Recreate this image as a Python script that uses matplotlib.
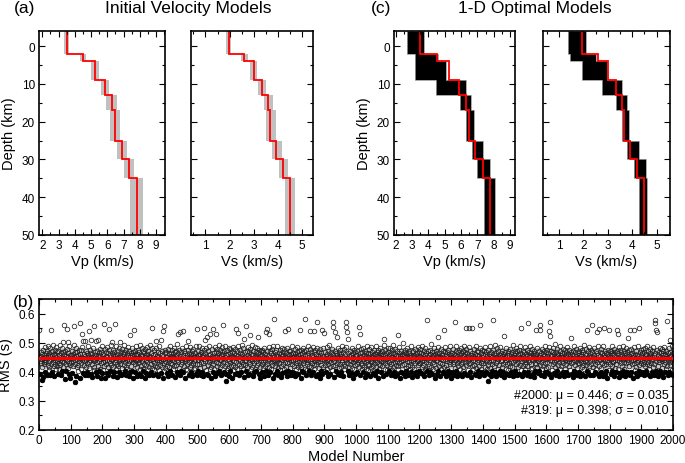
import numpy as np
import matplotlib
matplotlib.use("Agg")
import matplotlib.pyplot as plt
from matplotlib.ticker import MultipleLocator

plt.rcParams["font.family"] = ["Liberation Sans", "DejaVu Sans"]

# ---- 速度模型 (层界面深度 km) ----
layer_edges = [-4, 2, 4, 9, 13, 17, 25, 30, 35, 50]
vp_ref = [3.50, 4.52, 5.25, 5.86, 6.28, 6.46, 6.88, 7.32, 7.80]
vs_ref = [1.96, 2.61, 3.00, 3.33, 3.60, 3.68, 3.93, 4.20, 4.48]
# (a) 初始模型范围 (灰)
vp_init_lo = [3.34, 4.30, 5.02, 5.60, 5.95, 6.15, 6.58, 7.02, 7.42]
vp_init_hi = [3.66, 4.72, 5.50, 6.12, 6.58, 6.78, 7.20, 7.66, 8.22]
vs_init_lo = [1.86, 2.48, 2.86, 3.17, 3.44, 3.52, 3.76, 4.03, 4.28]
vs_init_hi = [2.05, 2.74, 3.14, 3.51, 3.80, 3.90, 4.16, 4.43, 4.72]
# (c) 最优模型范围 (黑)
vp_opt_lo = [2.72, 3.16, 3.16, 4.45, 5.91, 6.31, 6.68, 6.95, 7.43]
vp_opt_hi = [3.72, 4.62, 5.10, 6.30, 6.62, 6.82, 7.33, 7.76, 8.10]
vs_opt_lo = [1.38, 1.46, 1.93, 2.78, 3.34, 3.57, 3.80, 4.07, 4.30]
vs_opt_hi = [2.10, 2.50, 2.96, 3.57, 3.77, 3.88, 4.29, 4.56, 4.62]

# ---- (b) 2000 个模型的 RMS (x0.001 s), 每块 100 个 ----
rms_blocks = [
"""545 452 437 394 468 429 455 372 443 461 418 476 449 382 433 458 427 486 400 441
463 432 451 388 472 446 423 489 457 406 438 466 415 453 480 390 444 543 428 470
456 398 434 491 447 421 462 384 475 439 427 459 408 484 450 436 468 419 394 445
473 430 457 410 442 493 425 464 388 452 437 481 402 448 469 416 502 433 460 562
444 376 471 426 455 402 438 546 479 503 413 450 466 392 431 487 458 422 380 447""",
"""456 434 471 396 445 419 462 438 493 451 557 364 428 467 440 386 454 482 415 443
469 425 404 458 437 476 449 379 461 568 431 452 408 474 529 439 485 396 447 505
423 460 436 388 505 453 418 471 441 400 464 429 488 446 390 457 433 540 412 466
439 475 394 451 510 427 462 382 444 480 452 556 418 436 406 469 441 458 398 505
447 432 472 384 508 455 421 463 438 402 478 443 411 456 377 467 430 489 396 449""",
"""433 461 406 565 446 420 479 438 380 455 427 468 441 396 486 452 416 463 390 437
474 548 430 457 402 444 491 423 466 502 439 386 458 476 415 448 398 469 563 432
455 410 487 441 426 462 382 450 472 419 436 483 400 457 503 444 428 467 388 451
478 413 439 394 460 445 492 422 468 404 447 434 475 390 453 418 464 441 408 486
429 458 384 471 437 525 451 398 466 440 420 482 457 402 444 469 377 433 543 461""",
"""448 426 471 398 457 438 488 415 384 462 441 475 429 452 394 467 434 493 408 446
419 459 386 481 437 453 411 470 402 443 465 428 450 380 477 440 458 396 422 484
433 461 406 446 472 418 455 390 439 491 452 427 466 400 444 480 413 552 436 388
458 431 474 410 447 462 420 483 394 505 439 455 416 468 384 451 434 487 442 406
464 425 449 396 510 436 471 418 457 379 539 445 429 557 404 463 438 476 412 451""",
"""434 468 396 452 421 479 443 386 460 437 415 489 448 402 466 430 455 390 474 442
428 461 408 450 483 419 437 382 469 446 457 423 472 400 441 494 432 463 394 529
449 414 476 537 388 454 427 467 404 440 482 433 458 398 540 445 420 471 377 452
437 464 411 488 443 406 459 426 475 505 448 390 432 466 416 455 485 400 439 461
423 470 446 386 457 431 478 410 450 436 466 414 442 394 487 453 428 388 546 458""",
"""441 473 402 456 426 490 447 412 462 388 435 469 451 398 480 429 458 384 443 474
551 418 464 510 437 406 453 483 394 520 446 425 470 390 458 432 488 408 531 442
461 416 449 380 477 438 455 400 547 427 466 443 411 485 450 386 468 529 433 457
421 479 396 446 463 430 492 404 452 439 474 415 458 388 441 467 425 484 560 448
433 460 398 471 445 419 489 452 394 370 456 428 475 406 443 462 414 481 384 438""",
"""463 431 402 477 448 420 458 379 469 441 425 486 452 406 437 465 416 479 392 446
458 548 433 472 411 396 534 454 489 427 444 388 466 438 475 419 455 400 491 432
461 446 410 428 480 382 452 514 437 468 423 442 556 404 471 449 415 486 390 457
434 467 394 451 527 426 478 443 408 462 438 492 418 456 386 473 445 429 398 484
452 411 469 436 402 458 424 481 447 520 431 463 392 446 475 417 455 377 438 470""",
"""449 427 476 400 458 433 467 413 384 452 482 440 421 462 535 404 447 473 428 548
455 390 438 486 530 443 416 470 398 451 432 464 408 479 445 425 457 380 490 437
580 450 419 468 394 441 476 430 459 402 436 487 412 453 388 466 429 448 474 406
444 421 461 382 483 439 455 396 469 426 458 411 477 446 400 432 540 464 418 452
429 481 386 443 460 548 404 471 435 456 414 448 473 390 439 462 426 488 398 450""",
"""437 466 396 455 421 479 444 386 462 430 451 408 485 438 469 415 456 394 433 472
447 543 425 461 379 452 476 418 440 404 465 429 483 400 448 436 470 580 411 457
388 445 474 426 459 406 433 490 441 463 420 452 402 540 438 479 416 467 390 444
458 431 486 398 450 423 469 540 410 436 475 447 384 461 428 482 440 571 394 455
432 468 413 449 380 477 437 459 402 424 466 443 392 545 453 418 481 404 439 534""",
"""448 422 467 398 455 434 484 410 441 462 426 473 386 450 438 491 415 457 394 446
469 432 406 478 443 571 419 554 460 382 436 452 537 424 471 402 448 465 520 430
457 394 483 439 412 466 447 388 428 474 453 418 461 400 442 488 433 469 384 451
426 477 408 445 460 421 439 571 485 554 431 537 449 404 514 466 418 454 390 441
473 428 459 396 437 482 446 413 464 380 452 435 475 408 443 423 468 392 456 439""",
"""458 427 471 400 446 435 489 416 453 554 440 531 465 388 430 477 451 410 422 468
444 398 483 436 459 418 472 382 448 432 466 411 455 394 490 439 426 463 406 450
478 425 443 386 460 434 485 413 452 404 437 469 420 456 396 447 476 429 462 390
441 487 416 453 402 468 433 458 377 474 428 451 408 445 480 422 465 437 398 456
470 419 448 384 461 436 492 440 514 410 457 431 475 394 443 466 424 452 406 483""",
"""446 469 402 433 457 421 480 442 388 463 428 452 474 406 439 466 416 491 398 448
460 434 384 477 445 425 458 394 470 438 419 453 528 410 464 431 486 447 380 455
436 472 400 449 424 461 440 498 396 458 468 427 451 386 476 443 414 465 404 437
455 482 420 446 390 463 432 471 408 450 425 459 400 488 441 417 467 382 452 436
473 444 410 457 394 430 479 448 398 462 438 466 386 454 423 485 441 404 469 429""",
"""453 431 477 396 446 463 418 489 437 392 460 425 449 472 384 441 456 411 483 406
434 466 443 577 402 451 428 470 388 458 421 475 439 398 462 447 494 415 453 392
468 432 457 408 444 480 426 461 380 449 437 472 412 455 394 466 440 485 402 520
446 419 463 386 452 430 478 443 410 461 428 456 400 471 439 451 416 543 396 467
445 484 423 458 384 436 469 411 450 402 474 433 460 392 448 427 487 441 379 457""",
"""439 465 400 452 478 426 446 390 461 433 457 571 412 470 442 402 488 430 454 384
467 421 448 394 475 437 459 410 444 483 428 463 386 451 435 472 404 456 417 490
445 396 468 432 460 550 423 479 388 449 464 438 406 453 427 485 551 443 398 470
431 458 382 447 552 419 466 440 408 455 477 424 450 394 462 436 489 413 446 390
459 433 472 402 441 467 420 454 384 481 560 448 410 463 429 400 474 437 451 396""",
"""456 430 471 388 445 462 416 484 398 438 467 442 408 453 424 370 476 449 394 460
433 488 412 455 384 441 469 427 404 452 475 577 437 392 463 419 447 492 400 458
429 465 386 451 436 480 410 443 471 396 448 423 459 402 486 438 466 390 454 417
442 473 398 428 461 447 522 382 435 469 452 410 483 440 394 457 426 472 406 445
464 431 388 456 420 478 444 400 460 437 418 468 450 384 491 434 457 396 446 473""",
"""439 463 402 452 427 481 446 388 470 434 458 415 475 394 443 466 422 489 406 451
551 436 460 384 448 473 419 455 398 440 467 428 484 410 445 432 462 390 453 476
420 568 441 400 469 435 457 386 487 450 426 463 408 444 478 413 456 394 439 466
449 382 472 431 458 402 543 427 461 446 483 418 452 396 437 470 404 443 560 424
457 543 388 465 434 479 410 448 421 462 440 473 384 453 429 490 400 445 467 412""",
"""455 432 476 398 449 464 418 485 394 539 571 523 441 458 382 472 436 453 406 467
426 481 447 396 460 433 494 415 450 388 468 439 456 402 477 424 443 462 386 451
435 470 410 448 488 420 457 394 466 438 452 400 479 429 446 463 384 441 474 410
458 427 469 398 437 484 451 390 445 462 421 476 436 455 406 443 467 430 516 394
461 448 382 472 433 457 404 489 440 425 468 396 453 438 479 414 446 388 463 431""",
"""447 470 400 456 429 483 441 384 462 435 453 418 475 394 444 467 425 491 408 450
436 461 386 478 442 423 458 402 545 432 470 446 396 455 419 486 438 463 390 451
427 475 560 404 444 468 415 452 388 481 437 459 398 449 426 472 410 441 537 464
433 488 392 457 420 548 445 384 469 439 455 412 478 400 448 430 463 386 487 443
424 551 458 394 471 436 450 402 466 428 461 442 380 476 435 453 543 406 446 470""",
"""452 428 473 394 445 466 419 487 402 438 461 433 456 386 479 442 414 468 398 450
426 471 439 545 408 531 447 463 382 484 437 454 396 476 429 446 467 390 458 420
443 490 404 452 435 470 411 448 384 463 429 457 482 398 440 468 516 432 394 455
474 421 447 545 388 461 436 478 400 450 427 466 441 379 456 485 430 545 406 444
462 415 473 396 449 434 458 384 488 439 453 551 425 402 467 443 392 476 431 459""",
"""438 464 398 451 477 426 446 388 469 433 456 419 482 402 443 461 428 490 394 452
435 470 410 447 424 466 384 455 479 440 461 431 400 473 450 417 486 444 390 458
427 577 463 566 402 543 437 537 396 448 474 420 458 386 441 469 432 483 404 451
445 463 392 436 478 412 457 382 449 470 428 485 442 398 460 434 471 408 453 421
575 447 388 466 439 480 400 452 425 508 468 433 394 456 441 490 406 445 463 390""",
]
n_best = 319
mu_all, sd_all = 0.446, 0.035
stats_text = ["#2000: \u03bc = 0.446; \u03c3 = 0.035", "#319: \u03bc = 0.398; \u03c3 = 0.010"]

rms = np.array([int(s) for b in rms_blocks for s in b.split()]) / 1000.0
model_no = np.arange(1, len(rms) + 1)
best = np.argsort(rms)[:n_best]

W, H = 685, 464
fig = plt.figure(figsize=(W / 100, H / 100), dpi=100)


def style(ax):
    ax.tick_params(which="both", direction="in", top=True, right=True,
                   labelsize=8.5, width=0.8, pad=3)
    ax.tick_params(which="major", length=4)
    ax.tick_params(which="minor", length=2.2)
    for s in ax.spines.values():
        s.set_linewidth(1.2)


def vel_panel(rect, lo, hi, ref, fill_col, xlim, xlabel, show_y):
    ax = fig.add_axes(rect)
    ax.stairs(hi, layer_edges, baseline=lo, fill=True, orientation="horizontal",
              color=fill_col, lw=0)
    if fill_col == "black":
        ax.stairs(hi, layer_edges, baseline=lo, fill=False, orientation="horizontal",
                  color="#9a9a9a", lw=0.6)
    ax.stairs(ref, layer_edges, baseline=None, orientation="horizontal",
              color="red", lw=1.3)
    ax.set_xlim(*xlim)
    ax.set_ylim(50, -4)
    ax.xaxis.set_major_locator(MultipleLocator(1))
    ax.xaxis.set_minor_locator(MultipleLocator(0.5))
    ax.yaxis.set_major_locator(MultipleLocator(10))
    ax.yaxis.set_minor_locator(MultipleLocator(5))
    style(ax)
    ax.set_xlabel(xlabel, fontsize=10.5, labelpad=2)
    if show_y:
        ax.set_ylabel("Depth (km)", fontsize=10.5, labelpad=4)
    else:
        ax.tick_params(labelleft=False)
    return ax


bot, hgt = 1 - 236 / H, 204 / H
vel_panel([39 / W, bot, 126 / W, hgt], vp_init_lo, vp_init_hi, vp_ref, "#c0c0c0",
          (1.8, 9.55), "Vp (km/s)", True)
vel_panel([191 / W, bot, 122 / W, hgt], vs_init_lo, vs_init_hi, vs_ref, "#c0c0c0",
          (0.4, 5.45), "Vs (km/s)", False)
vel_panel([394 / W, bot, 121 / W, hgt], vp_opt_lo, vp_opt_hi, vp_ref, "black",
          (1.9, 9.3), "Vp (km/s)", True)
vel_panel([543 / W, bot, 127 / W, hgt], vs_opt_lo, vs_opt_hi, vs_ref, "black",
          (0.35, 5.55), "Vs (km/s)", False)

fig.text(25 / W, 1 - 9 / H, "(a)", fontsize=12.5, ha="center", va="center")
fig.text(188 / W, 1 - 9 / H, "Initial Velocity Models", fontsize=12.5, ha="center", va="center")
fig.text(381 / W, 1 - 9 / H, "(c)", fontsize=12.5, ha="center", va="center")
fig.text(535 / W, 1 - 9 / H, "1-D Optimal Models", fontsize=12.5, ha="center", va="center")
fig.text(23 / W, 1 - 302 / H, "(b)", fontsize=12.5, ha="center", va="center")

# ---- (b) RMS ----
axb = fig.add_axes([39 / W, 1 - 431 / H, 634 / W, 131 / H])
axb.axhspan(mu_all - sd_all, mu_all + sd_all, color="#cccccc", lw=0, zorder=0)
axb.plot(model_no, rms, "o", ms=3.3, mfc="none", mec="#222222", mew=0.55, zorder=2)
axb.axhline(mu_all, color="red", lw=2.3, zorder=3)
axb.plot(model_no[best], rms[best], "o", ms=3.3, mfc="black", mec="black", mew=0.4, zorder=4)
axb.set_xlim(0, 2000)
axb.set_ylim(0.2, 0.65)
axb.xaxis.set_major_locator(MultipleLocator(100))
axb.xaxis.set_minor_locator(MultipleLocator(50))
axb.yaxis.set_major_locator(MultipleLocator(0.1))
axb.yaxis.set_minor_locator(MultipleLocator(0.05))
style(axb)
axb.set_xlabel("Model Number", fontsize=10.5, labelpad=2)
axb.set_ylabel("RMS (s)", fontsize=10.5, labelpad=4)
axb.text(0.993, 0.265, stats_text[0], transform=axb.transAxes, ha="right", va="center", fontsize=9)
axb.text(0.993, 0.155, stats_text[1], transform=axb.transAxes, ha="right", va="center", fontsize=9)

fig.savefig("out.png", dpi=100)
